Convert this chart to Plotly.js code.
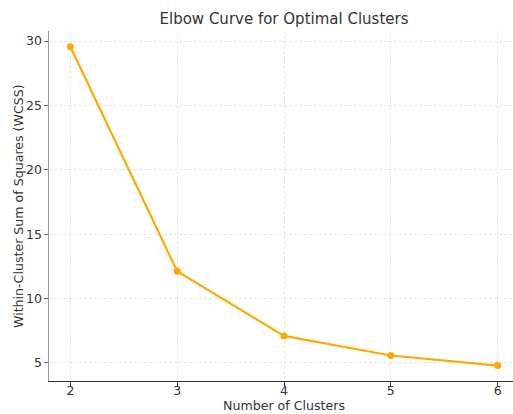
<!DOCTYPE html>
<html>
<head>
<meta charset="utf-8">
<script src="https://cdn.plot.ly/plotly-3.0.1.min.js"></script>
<style>
html,body{margin:0;padding:0;overflow:hidden;background:#fff;}
#chart{width:519px;height:414px;}
</style>
</head>
<body>
<div id="chart"></div>
<script>
const clusters = [2, 3, 4, 5, 6];
const wcss = [29.55, 12.12, 7.1, 5.58, 4.8];
const xTicks = [2, 3, 4, 5, 6];
const yTicks = [5, 10, 15, 20, 25, 30];
const titleText = 'Elbow Curve for Optimal Clusters';
const xTitle = 'Number of Clusters';
const yTitle = 'Within-Cluster Sum of Squares (WCSS)';

const trace = {
  x: clusters,
  y: wcss,
  type: 'scatter',
  mode: 'lines+markers',
  line: {color: '#FFAA00', width: 2.2},
  marker: {color: '#FFAA00', size: 7},
  hoverinfo: 'skip'
};

const ff = 'DejaVu Sans, sans-serif';

const layout = {
  width: 519,
  height: 414,
  margin: {l: 49, r: 0, t: 31, b: 33},
  paper_bgcolor: '#fff',
  plot_bgcolor: '#fff',
  showlegend: false,
  font: {family: ff, color: '#333'},
  title: {
    text: titleText,
    font: {family: ff, size: 15, color: '#333'},
    xref: 'paper', x: 0.5, xanchor: 'center',
    yref: 'container', y: 1 - 19/414, yanchor: 'middle'
  },
  xaxis: {
    range: [1.8, 6.2],
    tickvals: xTicks,
    ticktext: xTicks.map(String),
    ticks: 'outside', ticklen: 4, tickwidth: 1, tickcolor: '#333',
    tickfont: {family: ff, size: 12.5, color: '#333'},
    ticklabelstandoff: -6,
    showline: true, linecolor: '#333', linewidth: 1.2,
    showgrid: true, gridcolor: '#e0e0e0', griddash: '3px,2px', gridwidth: 0.8,
    zeroline: false
  },
  yaxis: {
    range: [3.6, 30.78],
    tickvals: yTicks,
    ticktext: yTicks.map(String),
    ticks: 'outside', ticklen: 4, tickwidth: 1, tickcolor: '#666',
    tickfont: {family: ff, size: 12.5, color: '#333'},
    ticklabelstandoff: -1,
    showline: true, linecolor: '#999', linewidth: 1.5,
    showgrid: true, gridcolor: '#e0e0e0', griddash: '3px,2px', gridwidth: 0.8,
    zeroline: false
  },
  annotations: [
    {
      text: xTitle, showarrow: false,
      xref: 'paper', x: 0.5, xanchor: 'center',
      yref: 'paper', y: 0, yanchor: 'middle', yshift: -24.5,
      font: {family: ff, size: 12.6, color: '#333'}
    },
    {
      text: yTitle, showarrow: false, textangle: -90,
      xref: 'paper', x: 0, xanchor: 'center', xshift: -31,
      yref: 'paper', y: 0.5, yanchor: 'middle',
      font: {family: ff, size: 12.6, color: '#333'}
    }
  ]
};

Plotly.newPlot('chart', [trace], layout, {displayModeBar: false, staticPlot: true});
</script>
</body>
</html>
